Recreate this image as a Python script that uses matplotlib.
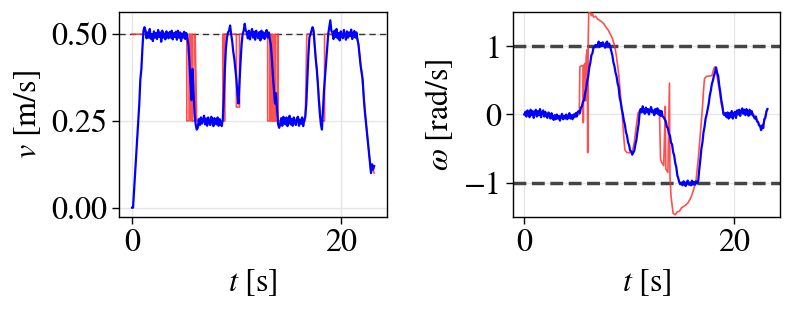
import numpy as np
import matplotlib
matplotlib.use("Agg")
import matplotlib.pyplot as plt

# ---------------- data ----------------
dt = 0.1  # sample period of measured signals [s]

v_meas = [
    0.0, 0.0, 0.05, 0.10, 0.15, 0.20, 0.25, 0.30, 0.37, 0.40, 0.46, 0.51, 0.52,
    0.51, 0.488, 0.505, 0.49, 0.515, 0.487, 0.50, 0.48, 0.508, 0.49, 0.503, 0.486, 0.512,
    0.492, 0.505, 0.478, 0.51, 0.49, 0.502, 0.485, 0.508, 0.495, 0.488, 0.506, 0.49, 0.51,
    0.485, 0.503, 0.492, 0.507, 0.484, 0.51, 0.49, 0.505, 0.48, 0.502, 0.49, 0.507, 0.486,
    0.503, 0.49,
    0.47, 0.42, 0.36, 0.31, 0.40, 0.33, 0.27, 0.24, 0.225,
    0.23, 0.255, 0.238, 0.26, 0.242, 0.252, 0.265, 0.24, 0.257, 0.236, 0.26, 0.245, 0.238,
    0.262, 0.25, 0.235, 0.258, 0.244, 0.24, 0.26, 0.236, 0.255, 0.242, 0.235,
    0.255, 0.32, 0.40, 0.46, 0.49, 0.505, 0.51, 0.525, 0.50, 0.48, 0.45, 0.43, 0.40, 0.37,
    0.33, 0.30, 0.36, 0.42, 0.47, 0.50, 0.51, 0.53, 0.51,
    0.505, 0.488, 0.51, 0.485, 0.503, 0.515, 0.49, 0.507, 0.484, 0.51, 0.495, 0.488, 0.506,
    0.482, 0.51, 0.49, 0.505, 0.486, 0.502, 0.512, 0.49, 0.505, 0.486,
    0.47, 0.43, 0.38, 0.34, 0.30, 0.33, 0.28, 0.24, 0.23,
    0.24, 0.258, 0.236, 0.262, 0.245, 0.24, 0.26, 0.235, 0.255, 0.265, 0.24, 0.256, 0.236,
    0.26, 0.248, 0.238, 0.257, 0.262, 0.236, 0.254, 0.242, 0.26, 0.235, 0.252, 0.262,
    0.30, 0.37, 0.44, 0.49, 0.50, 0.51, 0.52, 0.51, 0.47, 0.43, 0.40, 0.36, 0.31, 0.27, 0.24,
    0.225, 0.28, 0.34, 0.38, 0.42, 0.46, 0.50, 0.52, 0.54, 0.51,
    0.505, 0.486, 0.51, 0.492, 0.515, 0.488, 0.503, 0.482, 0.508, 0.495, 0.488, 0.512, 0.497,
    0.484, 0.508, 0.49, 0.505, 0.495, 0.513, 0.486, 0.502, 0.509, 0.49, 0.505, 0.485,
    0.47, 0.44, 0.41, 0.39, 0.37, 0.32, 0.28, 0.25, 0.22, 0.19, 0.16, 0.13, 0.10, 0.125, 0.11, 0.12,
]

v_cmd_t = [0.0, 5.25, 5.25, 5.47, 5.47, 5.63, 5.63, 5.76, 5.76, 5.82, 5.82, 6.05, 6.05, 6.2,
           8.7, 8.7, 8.8, 8.8, 8.9, 8.9, 10.0, 10.0, 10.3, 10.3,
           13.0, 13.0, 13.2, 13.2, 13.3, 13.3, 13.45, 13.45, 13.5, 13.5, 13.7, 13.7,
           13.75, 13.75, 13.95, 13.95, 14.0, 14.0,
           16.6, 16.75, 17.4, 17.7, 18.1, 18.45, 18.45,
           21.5, 21.7, 22.0, 22.5, 22.9, 23.0, 23.2]
v_cmd = [0.5, 0.5, 0.25, 0.25, 0.5, 0.5, 0.25, 0.25, 0.5, 0.5, 0.25, 0.25, 0.5, 0.25,
         0.25, 0.5, 0.5, 0.25, 0.25, 0.5, 0.5, 0.29, 0.29, 0.5,
         0.5, 0.25, 0.25, 0.5, 0.5, 0.25, 0.25, 0.5, 0.5, 0.25, 0.25, 0.5,
         0.5, 0.25, 0.25, 0.5, 0.5, 0.25,
         0.25, 0.5, 0.5, 0.40, 0.25, 0.25, 0.5,
         0.5, 0.47, 0.39, 0.22, 0.10, 0.12, 0.10]

w_meas = [
    0.0, 0.04, -0.03, 0.06, 0.0, -0.04, 0.07, -0.01, 0.05, -0.05,
    0.03, 0.07, -0.03, 0.05, -0.01, 0.08, -0.04, 0.03, 0.06, -0.03,
    0.04, -0.02, -0.05, 0.03, 0.0, -0.06, 0.02, -0.04, -0.08, -0.01,
    -0.07, 0.0, -0.06, -0.02, -0.09, -0.03, 0.01, -0.07, -0.02, -0.06,
    0.0, -0.07, -0.03, 0.02, -0.06, -0.01, -0.07, 0.0, -0.04, 0.02,
    -0.03, 0.04,
    0.05, 0.02, 0.10, 0.12, 0.19, 0.21, 0.31, 0.38, 0.49, 0.56, 0.69, 0.76, 0.87, 0.90, 0.98,
    0.99, 1.02, 1.0,
    1.02, 1.07, 0.99, 1.05, 1.0, 1.06, 1.01, 0.98, 1.05, 1.07, 1.0, 1.04, 0.99,
    0.93, 0.87, 0.77, 0.71, 0.62, 0.56, 0.46, 0.40, 0.25, 0.18, 0.08, 0.01, -0.09, -0.15,
    -0.26, -0.31, -0.41, -0.45, -0.53, -0.54, -0.59, -0.56, -0.53, -0.44, -0.37, -0.25,
    -0.15, 0.01,
    0.08, 0.03, 0.12, 0.05, 0.01, 0.1, 0.03, 0.08, 0.0, 0.07, 0.11, 0.03, 0.06, -0.01,
    0.08, 0.02, 0.09, 0.0, 0.06, -0.02, 0.05, -0.03, -0.04,
    -0.07, -0.10, -0.18, -0.20, -0.28, -0.31, -0.41, -0.44, -0.55, -0.60, -0.71, -0.77,
    -0.89, -0.94, -1.0, -1.02,
    -1.0, -1.04, -0.98, -1.02, -1.05, -0.99, -0.97, -1.03, -1.0, -1.04, -0.97, -1.03, -0.99,
    -1.03, -0.98, -1.01, -0.97,
    -0.80, -0.66, -0.50, -0.41, -0.26, -0.18, -0.06, 0.0, 0.08, 0.16, 0.28, 0.35, 0.45,
    0.50, 0.57, 0.62, 0.69, 0.61, 0.57, 0.43, 0.33, 0.21, 0.13, 0.01, -0.01, 0.02, -0.04,
    0.03, -0.06, 0.02, -0.04, 0.05, -0.06, 0.01, 0.04, -0.05, 0.06, 0.0, 0.07, -0.02, 0.05,
    0.09, 0.01, 0.07, -0.01, 0.08, 0.02, -0.02, 0.07, 0.0, 0.05, -0.01,
    -0.03, -0.06, -0.03, -0.10, -0.11, -0.16, -0.17, -0.23, -0.16, -0.20, -0.07, -0.05,
    0.04, 0.08,
]

w_cmd_t = [0.0, 1.0, 2.0, 3.0, 4.0, 5.0, 5.25, 5.3, 5.5, 5.62, 5.63, 5.66, 5.8, 5.85, 5.9,
           6.0, 6.05, 6.1, 6.15, 6.3, 6.4, 6.5, 6.6, 6.8, 7.0, 7.2, 7.4, 7.6, 7.8, 8.0,
           8.2, 8.4, 8.6, 8.8, 9.0, 9.2, 9.35, 9.5, 9.6, 9.8, 10.3, 10.5, 10.7, 10.85,
           11.0, 12.0, 12.9, 13.0, 13.1, 13.3, 13.4, 13.45, 13.5, 13.7, 13.85, 13.9, 14.0,
           14.2, 14.4, 14.6, 14.8, 15.0, 15.2, 15.4, 15.6, 15.8, 16.0, 16.2, 16.4, 16.6,
           16.8, 17.0, 17.1, 17.2, 17.4, 17.9, 18.1, 18.2, 18.4, 18.6, 18.8, 19.0, 19.5,
           20.0, 21.0, 21.8, 22.3, 22.6, 22.9, 23.1, 23.2]
w_cmd = [0.0, 0.02, 0.0, -0.03, -0.02, -0.02, 0.0, 0.70, 0.72, 0.70, -0.12, 0.72, 0.75,
         0.2, 0.85, 0.95, -0.56, 1.1, 1.52, 1.50, 1.45, 1.48, 1.43, 1.44, 1.40, 1.38,
         1.36, 1.33, 1.28, 1.24, 1.18, 1.12, 1.02, 0.85, 0.60, 0.25, -0.02, -0.35, -0.52,
         -0.56, -0.56, -0.40, -0.15, 0.02, 0.06, 0.04, 0.02, -0.65, -0.70, -0.75, -0.2,
         0.12, -0.80, -0.85, 0.46, -0.90, -1.20, -1.45, -1.47, -1.43, -1.42, -1.37, -1.35,
         -1.33, -1.30, -1.25, -1.18, -1.08, -0.95, -0.65, -0.28, 0.10, 0.35, 0.53, 0.56,
         0.57, 0.68, 0.70, 0.55, 0.38, 0.15, 0.03, 0.0, 0.02, 0.04, 0.02, -0.10, -0.20,
         -0.10, 0.05, 0.08]

v_ticks = [0.0, 0.25, 0.5]
v_ticklabels = ["0.00", "0.25", "0.50"]
w_ticks = [-1, 0, 1]
t_ticks = [0, 20]
v_ref = 0.5
w_limits = [-1.0, 1.0]

# ---------------- style ----------------
plt.rcParams.update({
    "font.family": "serif",
    "font.serif": ["STIXGeneral", "Liberation Serif", "DejaVu Serif"],
    "mathtext.fontset": "stix",
    "font.size": 23,
    "axes.linewidth": 1.0,
    "xtick.direction": "out",
    "ytick.direction": "out",
    "xtick.major.size": 5,
    "ytick.major.size": 5,
    "xtick.major.width": 1.0,
    "ytick.major.width": 1.0,
    "xtick.major.pad": 3.5,
    "ytick.major.pad": 3.5,
})

fig = plt.figure(figsize=(7.93, 3.09), dpi=100)
axL = fig.add_axes([0.150, 0.2987, 0.3376, 0.6615])
axR = fig.add_axes([0.6473, 0.2987, 0.3363, 0.6615])

t_v = np.arange(len(v_meas)) * dt
t_w = np.arange(len(w_meas)) * dt

red = "#ff3030"
blue = "#0000ff"
grid_c = "#e6e6e6"

for ax in (axL, axR):
    ax.set_axisbelow(True)
    ax.grid(True, color=grid_c, lw=1.0)

# left: linear velocity
axL.axhline(v_ref, color="#333333", lw=1.0, linestyle=(0, (4.5, 3)), zorder=2)
axL.plot(v_cmd_t, v_cmd, color=red, lw=1.2, alpha=0.85, zorder=3)
axL.plot(t_v, v_meas, color=blue, lw=1.6, zorder=4)
axL.set_xlim(-1.25, 24.4)
axL.set_ylim(-0.026, 0.563)
axL.set_xticks(t_ticks)
axL.set_yticks(v_ticks)
axL.set_yticklabels(v_ticklabels)
axL.set_xlabel("$t$ [s]", labelpad=7)
axL.set_ylabel("$v$ [m/s]", labelpad=6)

# right: angular velocity
for lim in w_limits:
    axR.axhline(lim, color="#444444", lw=2.5, linestyle="--", zorder=2)
axR.plot(w_cmd_t, w_cmd, color=red, lw=1.2, alpha=0.85, zorder=3)
axR.plot(t_w, w_meas, color=blue, lw=1.6, zorder=4)
axR.set_xlim(-1.05, 24.4)
axR.set_ylim(-1.5, 1.5)
axR.set_xticks(t_ticks)
axR.set_yticks(w_ticks)
axR.set_xlabel("$t$ [s]", labelpad=7)
axR.set_ylabel("$\\omega$ [rad/s]", labelpad=6)

fig.savefig("out.png", dpi=100)
